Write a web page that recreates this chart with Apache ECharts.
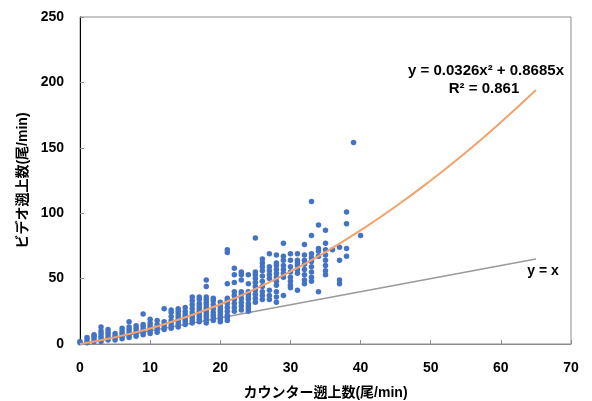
<!DOCTYPE html>
<html>
<head>
<meta charset="utf-8">
<script src="https://cdn.jsdelivr.net/npm/echarts@6/dist/echarts.min.js"></script>
<style>
html,body{margin:0;padding:0;background:#fff;}
#chart{width:592px;height:401px;}
</style>
</head>
<body>
<div id="chart"></div>
<script>
// Counter counts (x) and the video counts observed for each (y)
const counterValues = [0,1,2,3,4,5,6,7,8,9,10,11,12,13,14,15,16,17,18,19,20,21,22,23,24,25,26,27,28,29,30,31,32,33,34,35,36,37,38,39,40];
const videoValues = [
  [1, 2],
  [1, 3, 5],
  [2, 4, 6, 7],
  [2, 4, 6, 8, 10, 13],
  [3, 5, 7, 9, 11],
  [3, 5, 6, 8],
  [4, 6, 8, 10, 12],
  [5, 7, 9, 11, 13, 17],
  [6, 8, 10, 12, 14],
  [7, 9, 11, 13, 15, 23],
  [8, 10, 12, 14, 16, 19],
  [9, 11, 13, 15, 18],
  [11, 13, 15, 17, 27],
  [12, 14, 16, 18, 21, 24, 26],
  [13, 15, 17, 19, 21, 23, 25, 27],
  [15, 17, 19, 21, 23, 25, 28],
  [16, 18, 20, 22, 24, 27, 30, 33, 36],
  [17, 19, 21, 23, 25, 27, 29, 31, 34, 36],
  [16, 18, 20, 22, 24, 26, 28, 30, 32, 34, 36, 44, 49],
  [18, 20, 22, 24, 27, 30, 33, 35],
  [17, 19, 21, 23, 25, 27, 29, 32],
  [18, 20, 22, 25, 28, 31, 33, 35, 46, 70, 72],
  [25, 28, 31, 34, 37, 40, 47, 53, 58],
  [26, 29, 32, 35, 38, 40, 49, 53, 55],
  [25, 27, 29, 31, 34, 36, 38, 40, 46, 53],
  [32, 35, 38, 41, 44, 47, 50, 53, 55, 81],
  [34, 37, 40, 44, 48, 52, 56, 59, 62, 65],
  [34, 37, 41, 50, 53, 56, 59, 69],
  [32, 36, 40, 45, 48, 51, 54, 57, 60, 62, 68],
  [37, 51, 54, 57, 60, 64, 67, 77],
  [43, 45, 48, 51, 55, 59, 64, 69],
  [41, 54, 57, 60, 62, 64, 69],
  [46, 49, 53, 57, 61, 64, 68, 76],
  [48, 51, 55, 59, 63, 66, 69, 83, 109],
  [40, 67, 71, 73, 91],
  [53, 56, 60, 64, 68, 72, 77, 87],
  [72],
  [46, 49, 64, 74],
  [67, 73, 92, 101],
  [154],
  [83]
];
// Trend curve
const trendX = [0, 5, 10, 15, 20, 25, 30, 35, 40, 45, 50, 55, 60, 65];
const trendY = [0, 5.2, 11.9, 20.4, 30.4, 42.1, 55.4, 70.3, 86.9, 105.1, 125.0, 146.4, 169.5, 194.2];
// y = x reference line
const refX = [0, 65];
const refY = [0, 65];
const xTicks = [0, 10, 20, 30, 40, 50, 60, 70];
const yTicks = [0, 50, 100, 150, 200, 250];
const xName = 'カウンター遡上数(尾/min)';
const yName = 'ビデオ遡上数(尾/min)';
const eqText = 'y = 0.0326x² + 0.8685x';
const r2Text = 'R² = 0.861';
const refText = 'y = x';

const scatterData = [];
counterValues.forEach((x, i) => videoValues[i].forEach(y => scatterData.push([x, y])));
const trendData = trendX.map((x, i) => [x, trendY[i]]);
const refData = refX.map((x, i) => [x, refY[i]]);

const FONT = '"Liberation Sans", "Noto Sans CJK JP", sans-serif';
const chart = echarts.init(document.getElementById('chart'));
chart.setOption({
  animation: false,
  grid: { left: 80, right: 21, top: 17, bottom: 57, show: true, borderColor: '#8c8c8c', borderWidth: 1, containLabel: false, outerBoundsMode: 'none' },
  xAxis: {
    type: 'value', min: xTicks[0], max: xTicks[xTicks.length - 1], interval: 10,
    name: xName, nameLocation: 'middle', nameGap: 42,
    nameTextStyle: { fontSize: 14, fontWeight: 'bold', color: '#000', fontFamily: FONT },
    axisLine: { show: true, onZero: false, lineStyle: { color: '#8c8c8c', width: 1 } },
    axisTick: { show: true, inside: true, length: 4, lineStyle: { color: '#8c8c8c' } },
    axisLabel: { fontSize: 14, fontWeight: 'bold', color: '#000', margin: 17, fontFamily: FONT },
    splitLine: { show: false }
  },
  yAxis: {
    type: 'value', min: yTicks[0], max: yTicks[yTicks.length - 1], interval: 50,
    name: yName, nameLocation: 'middle', nameGap: 44,
    nameTextStyle: { fontSize: 14, fontWeight: 'bold', color: '#000', fontFamily: FONT },
    axisLine: { show: true, onZero: false, lineStyle: { color: '#000', width: 1 } },
    axisTick: { show: true, inside: true, length: 4, lineStyle: { color: '#8c8c8c' } },
    axisLabel: { fontSize: 14, fontWeight: 'bold', color: '#000', margin: 16, fontFamily: FONT },
    splitLine: { show: false }
  },
  series: [
    {
      type: 'line', data: refData, symbol: 'none', silent: true,
      lineStyle: { color: '#9a9a9a', width: 1.5 }, z: 1
    },
    {
      type: 'scatter', data: scatterData, symbolSize: 5.5,
      itemStyle: { color: '#4472C4', opacity: 1 }, z: 2
    },
    {
      type: 'line', data: trendData, symbol: 'none', smooth: true, silent: true,
      lineStyle: { color: '#F4A26B', width: 2 }, z: 3
    }
  ],
  graphic: [
    { type: 'text', x: 486, y: 71, style: { text: eqText, font: 'bold 15px ' + FONT, fill: '#000', align: 'center', verticalAlign: 'middle' } },
    { type: 'text', x: 484, y: 89, style: { text: r2Text, font: 'bold 15px ' + FONT, fill: '#000', align: 'center', verticalAlign: 'middle' } },
    { type: 'text', x: 543, y: 271, style: { text: refText, font: 'bold 14px ' + FONT, fill: '#000', align: 'center', verticalAlign: 'middle' } }
  ]
});
</script>
</body>
</html>
